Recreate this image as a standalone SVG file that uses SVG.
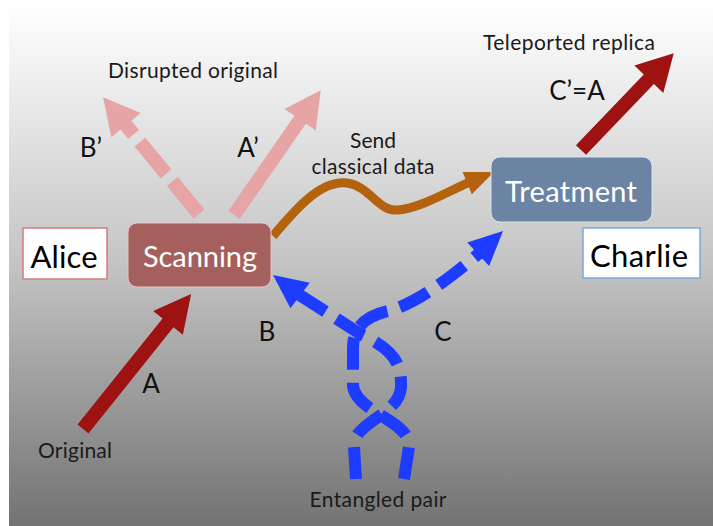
<svg xmlns="http://www.w3.org/2000/svg" width="713" height="526" viewBox="0 0 713 526">
  <defs>
    <linearGradient id="bg" x1="0" y1="0" x2="0" y2="1">
      <stop offset="0" stop-color="#ffffff"/>
      <stop offset="0.12" stop-color="#f2f2f2"/>
      <stop offset="0.5" stop-color="#c4c4c4"/>
      <stop offset="1" stop-color="#737373"/>
    </linearGradient>
    <path id="blueHead" d="M0,0 L-34,-16 L-34,16 Z"/>
  </defs>
  <style>
    text { font-family: Lato, "Open Sans", "Liberation Sans", sans-serif; text-anchor: middle; fill: #111; }
    .lbl { font-size: 21px; fill: #1a1a1a; }
    .big { font-size: 26px; }
    .boxtxt { fill: #ffffff; font-size: 29px; }
    .nametxt { font-size: 31px; fill: #000; }
    .dred { fill: #9e1212; }
    .pink { fill: #e6a4a4; }
    .pinkline { stroke: #e6a4a4; stroke-width: 14; fill: none; }
    .blue { fill: #1d3cff; }
    .blueline { stroke: #1d3cff; stroke-width: 12; fill: none; stroke-dasharray: 32 13; }
    .orange { fill: #b5620f; }
    .orangeline { stroke: #b5620f; stroke-width: 9; fill: none; }
  </style>

  <rect x="0" y="0" width="713" height="526" fill="#ffffff"/>
  <rect x="9" y="0" width="704" height="526" fill="url(#bg)"/>

  <g id="connectors">
    <!-- A: Original -> Scanning -->
    <path class="dred" transform="translate(83,429) rotate(-51.3)" d="M0,-7 H136 V-19 L173,0 L136,19 V7 H0 Z"/>
    <!-- C'=A: Treatment -> Teleported replica -->
    <path class="dred" transform="translate(581,150) rotate(-46.2)" d="M0,-7 H98 V-20 L134,0 L98,20 V7 H0 Z"/>
    <!-- A' pink solid -->
    <path class="pink" transform="translate(234,215) rotate(-55.2)" d="M0,-7 H116 V-19 L152,0 L116,19 V7 H0 Z"/>
    <!-- B' pink dashed -->
    <g transform="translate(199,214) rotate(-129.4)">
      <line class="pinkline" x1="0" y1="0" x2="117" y2="0" stroke-dasharray="42 10 41 10 30"/>
      <path class="pink" d="M115,-19 L151,0 L115,19 Z"/>
    </g>
    <!-- Send classical data -->
    <path class="orangeline" d="M273,236 C295,210 320,180 347,183 C370,186 378,212 398,210 C420,208 445,193 469,182.4"/>
    <path class="orange" transform="translate(494,172) rotate(-22.5)" d="M0,0 L-29,-12 L-29,12 Z"/>
    <!-- Entangled pair: strand to B (Scanning) -->
    <path class="blueline" d="M356,479 L354,447 C352,422 400,415 401,387 C402,362 392,349 362,335 L298,294"/>
    <use href="#blueHead" class="blue" transform="translate(273,275) rotate(217.2)"/>
    <!-- Entangled pair: strand to C (Treatment) -->
    <path class="blueline" d="M404,479 L409,447 C411,420 354,412 353,385 L353,348 C353,327 366,316 388,311 C415,304 445,282 480,252.6"/>
    <use href="#blueHead" class="blue" transform="translate(503,231) rotate(-43.2)"/>
  </g>

  <g id="alice">
    <rect x="23" y="228" width="84" height="51" fill="#ffffff" stroke="#d67a7a" stroke-width="1.5"/>
    <text class="nametxt" x="64" y="268" textLength="67" lengthAdjust="spacing">Alice</text>
  </g>
  <g id="scanning">
    <rect x="128" y="223" width="143" height="64" rx="9" fill="#a5605d" stroke="#e4c4c2" stroke-width="1"/>
    <text class="boxtxt" x="200" y="267" textLength="114" lengthAdjust="spacing">Scanning</text>
  </g>
  <g id="treatment">
    <rect x="491" y="157" width="161" height="65" rx="9" fill="#6b84a3" stroke="#dbe3ee" stroke-width="1"/>
    <text class="boxtxt" x="571" y="202" textLength="132" lengthAdjust="spacing">Treatment</text>
  </g>
  <g id="charlie">
    <rect x="583" y="228" width="117" height="50" fill="#ffffff" stroke="#7aa8da" stroke-width="1.5"/>
    <text class="nametxt" x="639" y="267" textLength="98" lengthAdjust="spacing">Charlie</text>
  </g>

  <g id="labels">
    <text class="lbl" x="193" y="78" textLength="170" lengthAdjust="spacing">Disrupted original</text>
    <text class="lbl" x="569" y="50" textLength="172" lengthAdjust="spacing">Teleported replica</text>
    <text class="big" x="577" y="100">C’=A</text>
    <text class="big" x="91" y="157">B’</text>
    <text class="big" x="248" y="157">A’</text>
    <text class="lbl" x="373" y="148">Send</text>
    <text class="lbl" x="373" y="174" textLength="123" lengthAdjust="spacing">classical data</text>
    <text class="big" x="267" y="341">B</text>
    <text class="big" x="443" y="341">C</text>
    <text class="big" x="151" y="393">A</text>
    <text class="lbl" x="75" y="458" textLength="74" lengthAdjust="spacing">Original</text>
    <text class="lbl" x="378" y="507" textLength="137" lengthAdjust="spacing">Entangled pair</text>
  </g>
</svg>
